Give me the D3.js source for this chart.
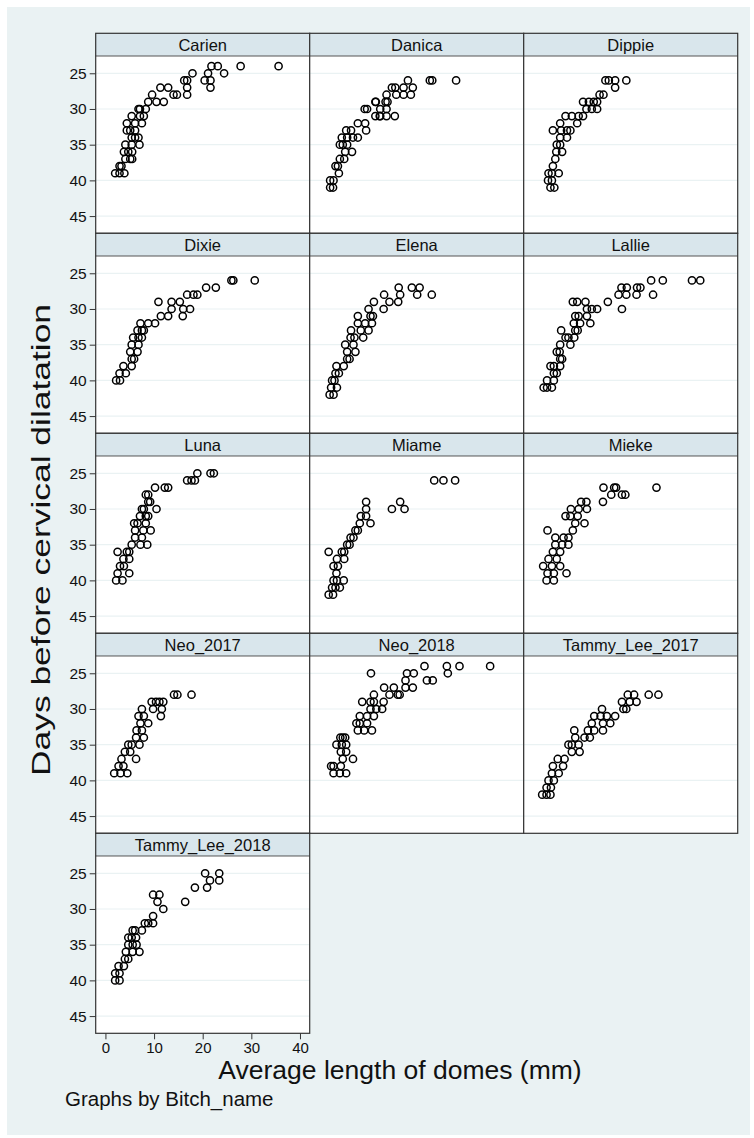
<!DOCTYPE html>
<html>
<head>
<meta charset="utf-8">
<script src="https://cdn.jsdelivr.net/npm/d3@7"></script>
<style>
  body { margin: 0; background: #fff; }
  svg { display: block; font-family: Arial, "Liberation Sans", sans-serif; }
</style>
</head>
<body>
<div id="chart"></div>
<script>
// panel names (Bitch_name), in plot order
const names = ["Carien", "Danica", "Dippie", "Dixie", "Elena", "Lallie", "Luna", "Miame",
  "Mieke", "Neo_2017", "Neo_2018", "Tammy_Lee_2017", "Tammy_Lee_2018"];

// [average length of domes (mm), days before cervical dilatation]
const carien = [[35.6,24],[27.8,24],[23.1,24],[21.8,24],[24.4,25],[21.1,25],[17.9,25],[20.4,26],[21.6,26],
  [21.6,27],[16.8,26],[16.2,26],[16.8,27],[16.8,28],[14.7,28],[14.0,28],[12.9,27],[11.3,27],[12.0,29],
  [10.5,29],[9.6,28],[8.8,29],[6.8,30],[7.1,30],[8.3,30],[5.4,31],[7.1,31],[7.9,31],[4.4,32],[6.1,32],
  [7.5,32],[4.4,33],[5.1,33],[6.1,33],[5.4,34],[6.1,34],[6.8,34],[4.1,35],[5.4,35],[7.0,35],[3.8,36],
  [4.7,36],[5.5,36],[4.1,37],[5.1,37],[5.5,37],[2.9,38],[3.3,38],[2.0,39],[2.9,39],[3.9,39]];
const danica = [[18.2,26],[22.7,26],[23.2,26],[28.1,26],[14.9,27],[15.6,27],[17.3,27],[19.2,27],[13.8,28],
  [15.8,28],[17.3,28],[18.8,28],[11.5,29],[11.6,29],[13.6,29],[14.0,29],[9.3,30],[9.8,30],[12.5,30],
  [13.8,30],[11.5,31],[12.4,31],[12.5,31],[13.8,31],[15.5,31],[7.9,32],[9.4,32],[5.5,33],[6.5,33],
  [9.6,33],[4.6,34],[5.7,34],[6.9,34],[7.9,34],[4.2,35],[4.8,35],[5.7,35],[5.3,36],[6.7,36],[4.2,37],
  [5.1,37],[3.3,38],[3.8,38],[4.0,39],[2.2,40],[2.9,40],[2.2,41],[2.8,41]];
const dippie = [[14.8,26],[15.5,26],[16.8,26],[19.1,26],[16.8,27],[13.6,28],[14.4,28],[10.2,29],[11.4,29],
  [12.4,29],[13.1,29],[10.9,30],[12.0,30],[13.1,30],[6.6,31],[7.9,31],[9.3,31],[10.2,31],[5.5,32],
  [9.0,32],[4.0,33],[5.7,33],[6.9,33],[7.6,33],[5.5,34],[6.9,34],[4.8,35],[5.5,35],[4.7,36],[5.9,36],
  [4.5,37],[4.0,38],[3.1,39],[3.8,39],[5.2,39],[3.0,40],[3.8,40],[3.5,41],[4.3,41]];
const dixie = [[25.9,26],[26.3,26],[30.7,26],[20.7,27],[22.7,27],[16.8,28],[18.1,28],[18.9,28],[10.9,29],
  [13.6,29],[15.3,29],[13.6,30],[16.0,30],[17.4,30],[11.4,31],[12.9,31],[15.9,31],[7.2,32],[8.8,32],
  [10.2,32],[6.6,33],[7.5,33],[7.9,33],[5.7,34],[6.8,34],[7.5,34],[5.4,35],[6.8,35],[5.1,36],[6.6,36],
  [5.4,37],[5.9,37],[3.7,38],[5.4,38],[2.9,39],[4.2,39],[2.2,40],[3.0,40]];
const elena = [[16.3,27],[19.0,27],[20.6,27],[13.3,28],[16.6,28],[20.1,28],[23.1,28],[11.2,29],[14.4,29],
  [16.2,29],[10.1,30],[13.2,30],[7.9,31],[10.5,31],[11.0,31],[7.9,32],[9.4,32],[10.8,32],[6.5,33],
  [8.5,33],[10.1,33],[6.4,34],[7.2,34],[9.0,34],[5.3,35],[7.0,35],[5.7,36],[7.4,36],[5.7,37],[6.2,37],
  [3.5,38],[5.0,38],[3.3,39],[4.0,39],[2.6,40],[3.1,40],[2.4,41],[3.6,41],[2.1,42],[2.9,42]];
const lallie = [[24.2,26],[26.6,26],[32.6,26],[34.3,26],[18.1,27],[19.2,27],[21.3,27],[22.0,27],[17.5,28],
  [19.1,28],[21.2,28],[24.6,28],[8.1,29],[9.0,29],[10.7,29],[15.3,29],[11.0,30],[12.0,30],[13.1,30],
  [18.2,30],[8.6,31],[9.3,31],[11.0,31],[8.3,32],[9.6,32],[11.7,32],[5.7,33],[8.6,33],[9.1,33],[6.6,34],
  [7.2,34],[8.4,34],[5.5,35],[7.6,35],[4.8,36],[5.4,36],[5.5,37],[5.9,37],[3.5,38],[4.2,38],[5.5,38],
  [4.2,39],[4.8,39],[2.8,40],[4.2,40],[2.1,41],[2.8,41],[3.8,41]];
const luna = [[18.9,25],[21.6,25],[22.3,25],[16.8,26],[17.7,26],[18.4,26],[10.2,27],[12.2,27],[12.9,27],
  [8.3,28],[8.8,28],[8.8,29],[9.2,29],[7.5,30],[7.9,30],[10.5,30],[7.1,31],[8.3,31],[8.8,31],[5.9,32],
  [6.6,32],[8.3,32],[6.1,33],[7.8,33],[9.3,33],[6.1,34],[7.5,34],[5.4,35],[7.2,35],[8.6,35],[2.5,36],
  [4.4,36],[4.9,36],[3.7,37],[4.9,37],[3.0,38],[3.8,38],[2.5,39],[4.9,39],[2.2,40],[3.5,40]];
const miame = [[23.6,26],[25.5,26],[27.9,26],[9.6,29],[16.6,29],[9.6,30],[14.9,30],[17.5,30],[8.5,31],
  [9.6,31],[8.3,32],[10.5,32],[7.4,33],[7.9,33],[6.4,34],[7.0,34],[5.7,35],[6.2,35],[1.9,36],[4.6,36],
  [5.1,36],[3.6,37],[5.1,37],[2.9,38],[3.8,38],[3.5,39],[2.9,40],[3.6,40],[5.0,40],[2.6,41],[3.3,41],
  [4.2,41],[1.9,42],[2.8,42]];
const mieke = [[14.4,27],[16.6,27],[17.0,27],[25.3,27],[16.0,28],[18.2,28],[18.9,28],[9.8,29],[10.9,29],
  [14.3,29],[7.7,30],[9.3,30],[11.0,30],[6.6,31],[7.6,31],[9.1,31],[8.6,32],[10.5,32],[2.9,33],[8.1,33],
  [4.5,34],[6.2,34],[7.2,34],[4.5,35],[5.9,35],[7.2,35],[4.0,36],[5.5,36],[3.1,37],[4.8,37],[2.0,38],
  [3.8,38],[5.5,38],[2.9,39],[4.2,39],[6.8,39],[2.7,40],[4.2,40]];
const neo2017 = [[14.1,28],[14.8,28],[17.7,28],[9.5,29],[10.4,29],[11.1,29],[11.9,29],[7.5,30],[9.8,30],
  [11.6,30],[6.8,31],[7.9,31],[11.4,31],[7.2,32],[8.8,32],[6.4,33],[7.5,33],[6.3,34],[7.9,34],[4.7,35],
  [5.4,35],[7.0,35],[4.0,36],[5.1,36],[3.3,37],[6.3,37],[2.7,38],[3.7,38],[1.8,39],[3.1,39],[4.5,39]];
const neo2018 = [[21.6,24],[26.2,24],[28.8,24],[35.1,24],[10.6,25],[18.0,25],[19.4,25],[26.4,25],[17.7,26],
  [22.1,26],[23.3,26],[13.3,27],[15.3,27],[17.7,27],[19.2,27],[11.2,28],[14.4,28],[16.1,28],[16.5,28],
  [8.8,29],[10.5,29],[11.2,29],[13.2,29],[10.5,30],[11.7,30],[12.9,30],[8.3,31],[9.8,31],[11.2,31],
  [7.6,32],[8.3,32],[9.8,32],[7.9,33],[9.2,33],[10.8,33],[4.3,34],[4.8,34],[5.3,34],[3.5,35],[4.6,35],
  [5.5,35],[4.4,36],[5.5,36],[4.8,37],[6.9,37],[2.4,38],[2.9,38],[4.4,38],[2.9,39],[4.2,39],[5.5,39]];
const tammy2017 = [[19.4,28],[20.7,28],[23.7,28],[25.7,28],[18.2,29],[19.8,29],[21.2,29],[14.1,30],[18.5,30],
  [19.1,30],[12.5,31],[13.8,31],[15.1,31],[16.8,31],[12.0,32],[14.3,32],[15.8,32],[8.4,33],[11.2,33],
  [12.5,33],[14.3,33],[8.6,34],[10.5,34],[11.6,34],[7.2,35],[7.9,35],[9.3,35],[7.9,36],[9.5,36],[5.0,37],
  [6.4,37],[4.0,38],[6.1,38],[3.8,39],[5.2,39],[3.1,40],[4.2,40],[2.7,41],[3.6,41],[1.8,42],[2.7,42],[3.5,42]];
const tammy2018 = [[20.5,25],[23.4,25],[21.5,26],[23.4,26],[18.4,27],[20.9,27],[9.8,28],[11.1,28],[10.7,29],
  [16.4,29],[11.9,30],[9.8,31],[8.1,32],[8.8,32],[9.8,32],[5.6,33],[6.1,33],[7.5,33],[4.7,34],[5.4,34],
  [6.3,34],[4.7,35],[5.6,35],[6.4,35],[4.2,36],[5.6,36],[7.0,36],[4.0,37],[4.7,37],[2.7,38],[3.8,38],
  [2.0,39],[2.9,39],[2.0,40],[2.9,40]];

const series = [carien, danica, dippie, dixie, elena, lallie, luna, miame,
  mieke, neo2017, neo2018, tammy2017, tammy2018];
const xTicks = [0, 10, 20, 30, 40];
const yTicks = [25, 30, 35, 40, 45];

const W = 754, H = 1138;
const left0 = 95.7, top0 = 33.3, cellW = 214, cellH = 200, headH = 22.7, nCols = 3;
const plotH = cellH - headH;

const svg = d3.select("#chart").append("svg")
  .attr("width", W).attr("height", H);

svg.append("rect")
  .attr("x", 7).attr("y", 7).attr("width", 743).attr("height", 1128)
  .attr("fill", "#EAF2F3");

const x = d3.scaleLinear().domain([-2, 42]).range([0, cellW]);
const y = d3.scaleLinear().domain([22.58, 47.41]).range([0, plotH]);

names.forEach((name, i) => {
  const c = i % nCols, r = Math.floor(i / nCols);
  const g = svg.append("g")
    .attr("transform", `translate(${left0 + c * cellW},${top0 + r * cellH})`);

  // header strip
  g.append("rect")
    .attr("width", cellW).attr("height", headH)
    .attr("fill", "#D9E6EC");
  g.append("text")
    .attr("x", cellW / 2).attr("y", headH / 2 + 6)
    .attr("text-anchor", "middle")
    .attr("font-size", 16.5)
    .attr("fill", "#111")
    .text(name);

  const p = g.append("g").attr("transform", `translate(0,${headH})`);
  p.append("rect")
    .attr("width", cellW).attr("height", plotH)
    .attr("fill", "#fff");

  // gridlines
  p.selectAll("line.grid")
    .data(yTicks)
    .join("line")
    .attr("class", "grid")
    .attr("x1", 0).attr("x2", cellW)
    .attr("y1", d => y(d)).attr("y2", d => y(d))
    .attr("stroke", "#EAF2F3")
    .attr("stroke-width", 1.2);

  // markers (hollow circles)
  p.selectAll("circle")
    .data(series[i])
    .join("circle")
    .attr("cx", d => x(d[0]))
    .attr("cy", d => y(d[1]))
    .attr("r", 3.6)
    .attr("fill", "none")
    .attr("stroke", "#000")
    .attr("stroke-width", 1.5);

  // borders
  g.append("line")
    .attr("x1", 0).attr("x2", cellW).attr("y1", headH).attr("y2", headH)
    .attr("stroke", "#555").attr("stroke-width", 1);
  g.append("rect")
    .attr("width", cellW).attr("height", cellH)
    .attr("fill", "none")
    .attr("stroke", "#333").attr("stroke-width", 1.2);

  if (c === 0) {
    const ax = p.append("g")
      .call(d3.axisLeft(y).tickValues(yTicks).tickSize(6).tickPadding(3));
    ax.select(".domain").remove();
    ax.selectAll("line").attr("stroke", "#333");
    ax.selectAll("text").attr("font-size", 15.5).attr("fill", "#111")
      .attr("font-family", "Arial, 'Liberation Sans', sans-serif");
  }
  if (i === names.length - 1) {
    const ax = p.append("g")
      .attr("transform", `translate(0,${plotH})`)
      .call(d3.axisBottom(x).tickValues(xTicks).tickSize(6).tickPadding(3));
    ax.select(".domain").remove();
    ax.selectAll("line").attr("stroke", "#333");
    ax.selectAll("text").attr("font-size", 15).attr("fill", "#111")
      .attr("font-family", "Arial, 'Liberation Sans', sans-serif");
  }
});

// axis titles and note
svg.append("text")
  .attr("transform", "translate(50,540) rotate(-90)")
  .attr("text-anchor", "middle")
  .attr("font-size", 26)
  .attr("textLength", 472)
  .attr("lengthAdjust", "spacingAndGlyphs")
  .attr("fill", "#111")
  .text("Days before cervical dilatation");

svg.append("text")
  .attr("x", 400).attr("y", 1079)
  .attr("text-anchor", "middle")
  .attr("font-size", 26.5)
  .attr("fill", "#111")
  .text("Average length of domes (mm)");

svg.append("text")
  .attr("x", 65).attr("y", 1106)
  .attr("font-size", 20.5)
  .attr("fill", "#111")
  .text("Graphs by Bitch_name");
</script>
</body>
</html>
